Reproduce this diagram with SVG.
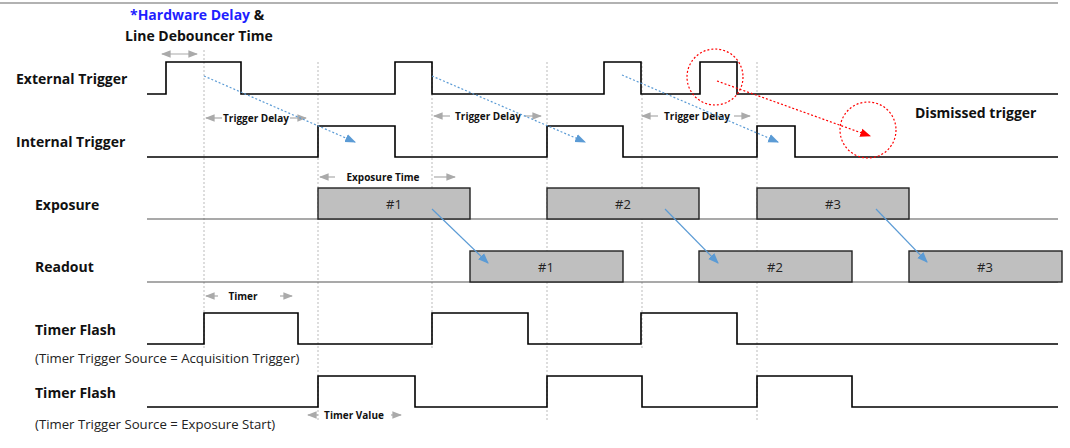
<svg xmlns="http://www.w3.org/2000/svg" width="1070" height="448" viewBox="0 0 1070 448">
<defs>
<style>
.sig{fill:none;stroke:#000;stroke-width:1.6}
.base{stroke:#555;stroke-width:1.2}
.box{fill:#bfbfbf;stroke:#222;stroke-width:1.4}
.grid{stroke:#aaa;stroke-width:0.8;stroke-dasharray:2,2}
.lbl{font-family:"Open Sans","DejaVu Sans",sans-serif;font-weight:bold;font-size:14px;fill:#111}
.sub{font-family:"Open Sans","DejaVu Sans",sans-serif;font-size:13.2px;fill:#222}
.sm{font-family:"Open Sans","DejaVu Sans",sans-serif;font-weight:bold;font-size:10px;fill:#111;text-anchor:middle}
.num{font-family:"Open Sans","DejaVu Sans",sans-serif;font-size:13px;fill:#222;text-anchor:middle}
.dim{stroke:#aaa;stroke-width:1.2;fill:none}
.bd{stroke:#5b9bd5;stroke-width:1.2;stroke-dasharray:2,2;fill:none}
.bs{stroke:#5b9bd5;stroke-width:1.2;fill:none}
</style>
<marker id="g" viewBox="0 0 10 10" refX="9" refY="5" markerWidth="8" markerHeight="8" orient="auto-start-reverse"><path d="M0,1L10,5L0,9z" fill="#aaa"/></marker>
<marker id="b" viewBox="0 0 10 10" refX="9" refY="5" markerWidth="9" markerHeight="9" orient="auto"><path d="M0,1L10,5L0,9z" fill="#5b9bd5"/></marker>
<marker id="r" viewBox="0 0 10 10" refX="9" refY="5" markerWidth="9" markerHeight="9" orient="auto"><path d="M0,1L10,5L0,9z" fill="#f00"/></marker>
</defs>
<rect width="1070" height="448" fill="#fff"/>
<line x1="0" y1="3" x2="1058" y2="3" stroke="#666" stroke-width="1.2"/>
<g id="grid">
<line class="grid" x1="204" y1="50" x2="204" y2="350"/>
<line class="grid" x1="318" y1="62" x2="318" y2="420"/>
<line class="grid" x1="432" y1="62" x2="432" y2="350"/>
<line class="grid" x1="547" y1="62" x2="547" y2="420"/>
<line class="grid" x1="642" y1="62" x2="642" y2="350"/>
<line class="grid" x1="757" y1="62" x2="757" y2="420"/>
</g>
<g id="labels">
<text x="130" y="20" class="lbl" font-size="11.5"><tspan fill="#1f1fff">*Hardware Delay</tspan> &amp;</text>
<text x="125" y="41" class="lbl" font-size="11.5">Line Debouncer Time</text>
<text x="16" y="84" class="lbl">External Trigger</text>
<text x="16" y="147" class="lbl">Internal Trigger</text>
<text x="35" y="210" class="lbl">Exposure</text>
<text x="35" y="272" class="lbl">Readout</text>
<text x="35" y="335" class="lbl">Timer Flash</text>
<text x="35" y="363" class="sub">(Timer Trigger Source = Acquisition Trigger)</text>
<text x="35" y="398" class="lbl">Timer Flash</text>
<text x="35" y="429" class="sub">(Timer Trigger Source = Exposure Start)</text>
<text x="915" y="118" class="lbl" font-size="12">Dismissed trigger</text>
</g>
<g id="ext"><path class="sig" d="M147,94H166V62H241V94H395V62H432V94H604V62H641V94H700V62H737V94H1058"/></g>
<g id="int"><path class="sig" d="M147,157H318V126H395V157H547V126H623V157H757V126H795V157H1058"/></g>
<g id="exposure">
<line class="base" x1="147" y1="219" x2="1058" y2="219"/>
<rect class="box" x="318" y="188" width="152" height="31"/><text class="num" x="394" y="209">#1</text>
<rect class="box" x="547" y="188" width="152" height="31"/><text class="num" x="623" y="209">#2</text>
<rect class="box" x="757" y="188" width="152" height="31"/><text class="num" x="833" y="209">#3</text>
</g>
<g id="readout">
<line class="base" x1="147" y1="282" x2="1058" y2="282"/>
<rect class="box" x="470" y="251" width="153" height="31"/><text class="num" x="546" y="272">#1</text>
<rect class="box" x="699" y="251" width="153" height="31"/><text class="num" x="775" y="272">#2</text>
<rect class="box" x="909" y="251" width="153" height="31"/><text class="num" x="985" y="272">#3</text>
</g>
<g id="tf1"><path class="sig" d="M147,344H204V313H298V344H432V313H528V344H641V313H737V344H1058"/></g>
<g id="tf2"><path class="sig" d="M147,407H318V376H415V407H547V376H642V407H757V376H852V407H1058"/></g>
<g id="dims">
<line class="dim" x1="162" y1="54" x2="197" y2="54" marker-start="url(#g)" marker-end="url(#g)"/>
<line class="dim" x1="206" y1="118" x2="222" y2="118" marker-start="url(#g)"/><line class="dim" x1="290" y1="118" x2="306" y2="118" marker-end="url(#g)"/><text class="sm" x="256" y="122">Trigger Delay</text>
<line class="dim" x1="434" y1="116" x2="450" y2="116" marker-start="url(#g)"/><line class="dim" x1="525" y1="116" x2="541" y2="116" marker-end="url(#g)"/><text class="sm" x="488" y="120">Trigger Delay</text>
<line class="dim" x1="642" y1="116" x2="658" y2="116" marker-start="url(#g)"/><line class="dim" x1="734" y1="116" x2="750" y2="116" marker-end="url(#g)"/><text class="sm" x="697" y="120">Trigger Delay</text>
<line class="dim" x1="320" y1="177" x2="335" y2="177" marker-start="url(#g)"/><line class="dim" x1="434" y1="177" x2="455" y2="177" marker-end="url(#g)"/><text class="sm" x="383" y="181">Exposure Time</text>
<line class="dim" x1="206" y1="296" x2="218" y2="296" marker-start="url(#g)"/><line class="dim" x1="280" y1="296" x2="292" y2="296" marker-end="url(#g)"/><text class="sm" x="243" y="300">Timer</text>
<line class="dim" x1="308" y1="415" x2="318" y2="415" marker-start="url(#g)"/><line class="dim" x1="391" y1="415" x2="401" y2="415" marker-end="url(#g)"/><text class="sm" x="354" y="419">Timer Value</text>
</g>
<g id="connectors">
<line class="bd" x1="204" y1="76" x2="355" y2="142" marker-end="url(#b)"/>
<line class="bd" x1="432" y1="76" x2="585" y2="142" marker-end="url(#b)"/>
<line class="bd" x1="622" y1="75" x2="778" y2="142" marker-end="url(#b)"/>
<line class="bs" x1="432" y1="209" x2="488" y2="263" marker-end="url(#b)"/>
<line class="bs" x1="665" y1="209" x2="718" y2="263" marker-end="url(#b)"/>
<line class="bs" x1="876" y1="209" x2="927" y2="262" marker-end="url(#b)"/>
<line x1="717" y1="81" x2="870" y2="136" stroke="#f00" stroke-width="1.2" stroke-dasharray="2,2" marker-end="url(#r)"/>
<circle cx="715" cy="77" r="28" fill="none" stroke="#f00" stroke-width="1.2" stroke-dasharray="2,2"/>
<circle cx="868" cy="130" r="28" fill="none" stroke="#f00" stroke-width="1.2" stroke-dasharray="2,2"/>
</g>
</svg>
